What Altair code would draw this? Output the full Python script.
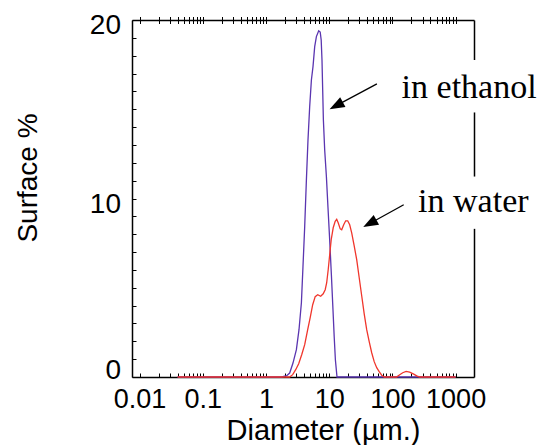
import altair as alt
import pandas as pd

# ---------------- data ----------------
ethanol_d = [0.04, 1.772, 2.126, 2.371, 2.674, 3.027, 3.329, 3.633, 3.849, 4.097,
             4.358, 4.619, 4.914, 5.229, 5.543, 5.897, 6.273, 6.823, 7.205, 7.472,
             7.693, 7.891, 8.094, 8.487, 9.030, 9.572, 10.18, 10.83, 11.48, 12.00,
             12.53, 13.29, 14.66, 1000]
ethanol_pct = [0, 0, 0.07, 0.22, 0.78, 1.53, 2.65, 4.16, 6.19, 8.43,
               11.04, 13.28, 15.15, 16.64, 17.39, 18.51, 19.07, 19.40, 19.33, 18.88,
               17.76, 16.08, 14.40, 12.72, 11.23, 9.48, 7.68, 5.73, 3.77, 2.26,
               0.97, 0, 0, 0]

water_d = [0.04, 2.371, 2.645, 2.951, 3.292, 3.672, 4.097, 4.569, 5.005, 5.482,
           6.005, 6.577, 7.337, 8.037, 8.645, 9.130, 9.643, 10.18, 10.76, 11.57,
           12.44, 13.15, 13.88, 14.94, 15.77, 16.96, 18.24, 19.62, 21.10, 22.70,
           24.86, 27.24, 29.84, 32.68, 35.80, 39.21, 42.95, 47.05, 51.52, 56.45,
           61.81, 67.72, 74.19, 116.1, 130.5, 145.6, 164.8, 187.8, 217.3, 242.4,
           270.4, 1000]
water_pct = [0, 0, 0.13, 0.41, 0.74, 1.25, 1.81, 2.65, 3.32, 4.05,
             4.50, 4.61, 4.52, 4.66, 4.89, 5.28, 6.01, 6.85, 7.69, 8.36,
             8.72, 8.83, 8.64, 8.30, 8.25, 8.53, 8.75, 8.75, 8.53, 8.08,
             7.35, 6.57, 5.56, 4.55, 3.54, 2.65, 1.98, 1.36, 0.86, 0.52,
             0.30, 0.10, 0, 0, 0.13, 0.24, 0.31, 0.27, 0.16, 0.06,
             0, 0]

x_label_values = [0.01, 0.1, 1, 10, 100, 1000]
x_tick_values = [round(m * d, 6) for d in [0.01, 0.1, 1, 10, 100] for m in range(1, 10)] + [1000]
y_label_values = [0, 10, 20]
y_tick_values = list(range(0, 21))

x_domain = [0.00759, 1954]
y_domain = [0, 20]

label_text = ["in ethanol", "in water"]
label_x = [139.8, 255.1]
label_y = [15.62, 9.24]

arrow_x0 = [56.86, 150.9]
arrow_y0 = [16.42, 9.65]
arrow_hx = [12.91, 43.90]
arrow_hy = [15.20, 8.60]
arrow_angle = [241.9, 241.2]

gap_x = [1550, 1550]
gap_x2 = [2400, 2400]
gap_y = [14.82, 8.30]
gap_y2 = [17.76, 11.23]

# ---------------- tables ----------------
eth = pd.DataFrame({"d": ethanol_d, "p": ethanol_pct})
wat = pd.DataFrame({"d": water_d, "p": water_pct})
labels = pd.DataFrame({"t": label_text, "x": label_x, "y": label_y})
arrows = pd.DataFrame({"x0": arrow_x0, "y0": arrow_y0, "hx": arrow_hx, "hy": arrow_hy,
                       "ang": arrow_angle})
gaps = pd.DataFrame({"x": gap_x, "x2": gap_x2, "y": gap_y, "y2": gap_y2})

SANS = "Liberation Sans"
xs = alt.Scale(type="log", domain=x_domain)
ys = alt.Scale(domain=y_domain)

# axes
ax_x_labels = alt.Axis(orient="bottom", values=x_label_values, format="~g", ticks=False, tickSize=0,
                       domain=True, domainColor="black", domainWidth=1.5, grid=False,
                       labelFont=SANS, labelFontSize=27, labelColor="black", labelPadding=9,
                       labelFlush=False, labelOverlap=False,
                       title="Diameter (µm.)", titleFont=SANS, titleFontSize=29,
                       titleFontWeight="normal", titleColor="black", titleX=191, titleY=62,
                       titleBaseline="alphabetic", titleAlign="center", zindex=0)
ax_x_bticks = alt.Axis(orient="bottom", values=x_tick_values, labels=False, domain=False,
                       ticks=True, tickSize=4, tickColor="black", tickWidth=1, offset=-4,
                       grid=False, title=None, zindex=0)
ax_x_top = alt.Axis(orient="top", values=x_tick_values, labels=False, domain=True,
                    domainColor="black", domainWidth=1.5, ticks=False, tickSize=0,
                    grid=False, title=None, zindex=0)
ax_x_tticks = alt.Axis(orient="top", values=x_tick_values, labels=False, domain=False,
                       ticks=True, tickSize=7, tickColor="black", tickWidth=1, offset=-3.5,
                       grid=False, title=None, zindex=0)

ax_y_labels = alt.Axis(orient="left", values=y_label_values, ticks=False, tickSize=0,
                       domain=True, domainColor="black", domainWidth=1.5, grid=False,
                       labelFont=SANS, labelFontSize=28, labelColor="black", labelPadding=11.5,
                       labelFlush=False,
                       labelOffset={"condition": {"test": "datum.value == 0", "value": -6.5},
                                    "value": 5.5},
                       title="Surface %", titleFont=SANS, titleFontSize=28,
                       titleFontWeight="normal", titleColor="black", titleX=-96, titleY=157.5,
                       titleBaseline="alphabetic", titleAlign="center", titleAngle=270, zindex=0)
ax_y_ticks = alt.Axis(orient="left", values=y_tick_values, labels=False, domain=False,
                      ticks=True, tickSize=4, tickColor="black", tickWidth=1, offset=-4,
                      grid=False, title=None, zindex=0)
ax_y_right = alt.Axis(orient="right", values=y_label_values, labels=False, ticks=False, tickSize=0,
                      domain=True, domainColor="black", domainWidth=1.5, grid=False,
                      title=None, zindex=0)

purple = alt.Chart(eth).mark_line(color="#5a35b0", strokeWidth=1.3).encode(
    x=alt.X("d:Q", scale=xs, axis=ax_x_labels),
    y=alt.Y("p:Q", scale=ys, axis=ax_y_labels),
)
red = alt.Chart(wat).mark_line(color="#f0362c", strokeWidth=1.3).encode(
    x=alt.X("d:Q", scale=xs, axis=ax_x_bticks),
    y=alt.Y("p:Q", scale=ys, axis=ax_y_ticks),
)
gap_layer = alt.Chart(gaps).mark_rect(color="white").encode(
    x=alt.X("x:Q", scale=xs, axis=ax_x_top),
    x2="x2:Q",
    y=alt.Y("y:Q", scale=ys, axis=ax_y_right),
    y2="y2:Q",
)
arrow_lines = alt.Chart(arrows).mark_rule(color="black", strokeWidth=1.3).encode(
    x=alt.X("x0:Q", scale=xs, axis=ax_x_tticks),
    y=alt.Y("y0:Q", scale=ys, axis=None),
    x2="hx:Q",
    y2="hy:Q",
)
arrow_heads = alt.Chart(arrows).mark_point(
    shape="M0,-1L0.75,1L-0.75,1Z", filled=True, color="black", opacity=1, size=225,
    strokeWidth=0,
).encode(
    x=alt.X("hx:Q", scale=xs, axis=None),
    y=alt.Y("hy:Q", scale=ys, axis=None),
    angle=alt.Angle("ang:Q", scale=None),
)
texts = alt.Chart(labels).mark_text(
    align="left", baseline="alphabetic", font="Liberation Serif", fontSize=34, color="black"
).encode(
    x=alt.X("x:Q", scale=xs, axis=None),
    y=alt.Y("y:Q", scale=ys, axis=None),
    text="t:N",
)

chart = alt.layer(purple, red, gap_layer, arrow_lines, arrow_heads, texts).resolve_axis(
    x="independent", y="independent"
).properties(
    width=342, height=357,
    autosize=alt.AutoSizeParams(type="none"),
    padding={"left": 132, "top": 20, "right": 64, "bottom": 68},
    background="white",
).configure_view(strokeWidth=0)

chart.save("out.html", embed_options={"renderer": "svg", "actions": False})
